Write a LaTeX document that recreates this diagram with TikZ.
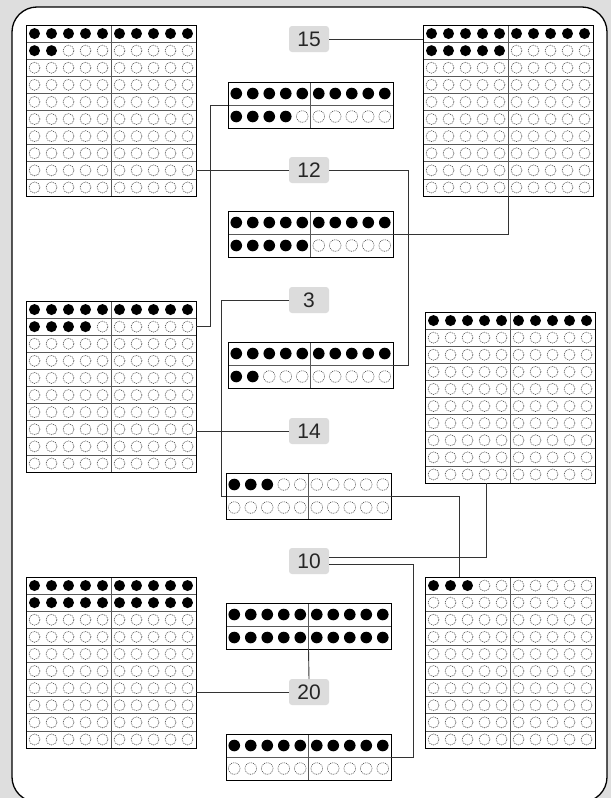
\documentclass[tikz,border=0pt]{standalone}
\usepackage{fontspec}
\setmainfont{Liberation Sans}
\definecolor{bggray}{HTML}{DEDEDE}
\definecolor{labgray}{HTML}{DCDCDC}
\definecolor{linegray}{HTML}{333333}
\tikzset{
 conn/.style={draw=linegray, line width=0.9pt},
 gridbox/.style={draw=black, line width=0.9pt, inner sep=0pt, outer sep=0pt, rectangle},
 rowline/.style={draw=black!65, line width=0.7pt},
 divline/.style={draw=black!65, line width=0.8pt},
 fulldot/.style={fill=black},
 emptydot/.style={draw=black!75, line width=0.55pt, dash pattern=on 1pt off 0.9pt},
 lab/.style={fill=labgray, rounded corners=3pt, minimum width=40pt, minimum height=26pt, inner sep=0pt, outer sep=0pt, font=\fontsize{21}{24}\selectfont, text=black!85},
}
% name, x, y, cell width, cell height, rows, filled, radius
\newcommand{\dotgrid}[8]{%
 \pgfmathtruncatemacro\dgrows{#6-1}%
 \foreach \r in {0,...,\dgrows}{%
   \foreach \c in {0,...,9}{%
     \pgfmathtruncatemacro\dgk{\r*10+\c}%
     \ifnum\dgk<#7\relax
       \fill[fulldot] (#2+\c*#4+0.5*#4, #3+\r*#5+0.5*#5) circle[radius=#8];
     \else
       \draw[emptydot] (#2+\c*#4+0.5*#4, #3+\r*#5+0.5*#5) circle[radius=#8];
     \fi
   }%
 }%
 \foreach \r in {1,...,\dgrows} \draw[rowline] (#2,#3+\r*#5) -- ++(10*#4,0);
 \draw[divline] (#2+5*#4,#3) -- ++(0,#6*#5);
 \node[gridbox, anchor=north west, minimum width=10*#4, minimum height=#6*#5] (#1) at (#2,#3) {};
}
\begin{document}
\begin{tikzpicture}[x=1pt,y=-1pt]
\useasboundingbox (0,0) rectangle (611,798);
\fill[bggray] (0,0) rectangle (611,798);
\draw[fill=white, line width=1.3pt, rounded corners=25pt] (12,7) rectangle (607,802);

% big grids
\dotgrid{G12}{26}{25}{17}{17.1}{10}{12}{5.5pt}
\dotgrid{G15}{423}{25}{17}{17.1}{10}{15}{5.5pt}
\dotgrid{G14}{26}{301}{17}{17.1}{10}{14}{5.5pt}
\dotgrid{G10}{425}{312}{17}{17.1}{10}{10}{5.5pt}
\dotgrid{G20}{26}{577}{17}{17.1}{10}{20}{5.5pt}
\dotgrid{G3}{425}{577}{17}{17.1}{10}{3}{5.5pt}

% double frames
\dotgrid{F14}{228}{82}{16.5}{23}{2}{14}{5.8pt}
\dotgrid{F15}{228}{211}{16.5}{23}{2}{15}{5.8pt}
\dotgrid{F12}{228}{342}{16.5}{23}{2}{12}{5.8pt}
\dotgrid{F3}{226}{473}{16.5}{23}{2}{3}{5.8pt}
\dotgrid{F20}{226}{603}{16.5}{23}{2}{20}{5.8pt}
\dotgrid{F10}{226}{734}{16.5}{23}{2}{10}{5.8pt}

% labels
\node[lab] (L15) at (309,39) {15};
\node[lab] (L12) at (309,170) {12};
\node[lab] (L3) at (309,300) {3};
\node[lab] (L14) at (309,431) {14};
\node[lab] (L10) at (309,561) {10};
\node[lab] (L20) at (309,692) {20};

% connectors
\draw[conn] (L15.east) -- (L15.east -| G15.west);
\draw[conn] (F15.east) -| (G15.south);
\draw[conn] (L12.west) -- (L12.west -| G12.east);
\draw[conn] (L12.east) -- ++(79,0) |- (F12.east);
\draw[conn] (F14.west) -- ++(-17.5,0) |- ([yshift=-25.6pt]G14.north east);
\draw[conn] (L14.west) -- (L14.west -| G14.east);
\draw[conn] (L3.west) -- ++(-68,0) |- (F3.west);
\draw[conn] (F3.east) -| ([xshift=-51pt]G3.north);
\draw[conn] ([yshift=3.5pt]L10.east) -| ([xshift=-24pt]G10.south);
\draw[conn] ([yshift=-3.5pt]L10.east) -- ++(84,0) |- (F10.east);
\draw[conn] (L20.west) -- (L20.west -| G20.east);
\draw[conn] (L20.north) -- (F20.south);
\end{tikzpicture}
\end{document}
